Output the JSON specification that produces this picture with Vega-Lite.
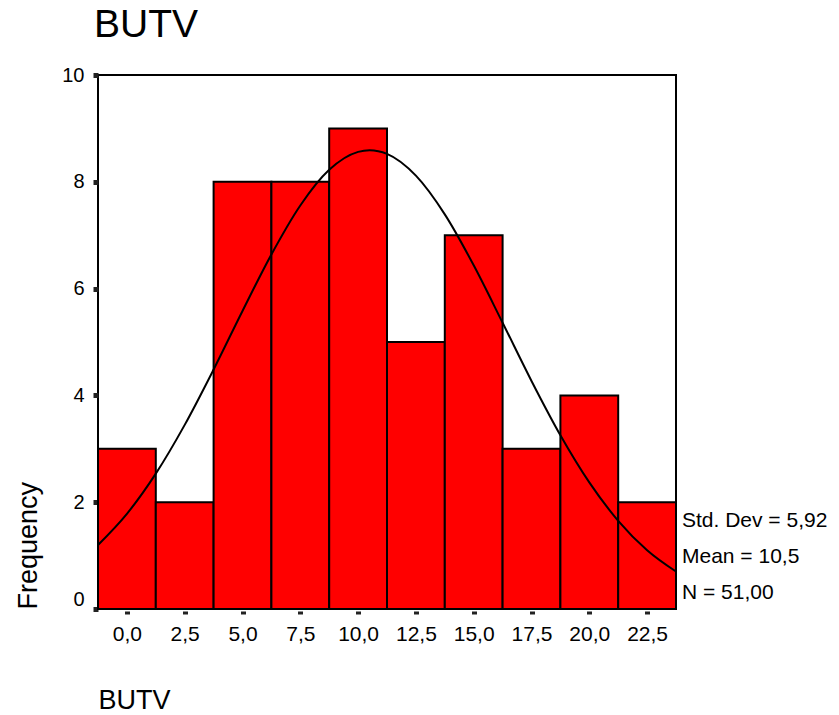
{
  "$schema": "https://vega.github.io/schema/vega-lite/v6.json",
  "width": 578,
  "height": 534,
  "autosize": {"type": "none"},
  "padding": {"left": 98, "top": 75, "right": 163, "bottom": 106},
  "background": "white",
  "config": {
    "font": "Liberation Sans",
    "view": {"stroke": "black", "strokeWidth": 2},
    "axis": {"grid": false, "domain": false, "labelColor": "black", "titleColor": "black", "titleFontWeight": "normal", "tickColor": "#222", "labelFlush": false, "labelOverlap": false}
  },
  "title": {"text": "BUTV", "anchor": "start", "frame": "group", "fontSize": 39, "fontWeight": "normal", "offset": 20, "dx": -4, "color": "black"},
  "layer": [
    {
      "data": {"values": [
        {"binStart": -1.25, "binEnd": 1.25, "count": 3},
        {"binStart": 1.25, "binEnd": 3.75, "count": 2},
        {"binStart": 3.75, "binEnd": 6.25, "count": 8},
        {"binStart": 6.25, "binEnd": 8.75, "count": 8},
        {"binStart": 8.75, "binEnd": 11.25, "count": 9},
        {"binStart": 11.25, "binEnd": 13.75, "count": 5},
        {"binStart": 13.75, "binEnd": 16.25, "count": 7},
        {"binStart": 16.25, "binEnd": 18.75, "count": 3},
        {"binStart": 18.75, "binEnd": 21.25, "count": 4},
        {"binStart": 21.25, "binEnd": 23.75, "count": 2}
      ]},
      "mark": {"type": "rect", "fill": "#ff0000", "stroke": "black", "strokeWidth": 2},
      "encoding": {
        "x": {
          "field": "binStart", "type": "quantitative",
          "scale": {"domain": [-1.25, 23.75], "nice": false, "zero": false},
          "axis": {
            "title": "BUTV", "titleFontSize": 27, "titleAnchor": "start", "titleAlign": "left", "titlePadding": 43,
            "values": [0, 2.5, 5, 7.5, 10, 12.5, 15, 17.5, 20, 22.5],
            "labelExpr": "replace(format(datum.value, '.1f'), '.', ',')",
            "labelFontSize": 21, "labelPadding": 9, "tickSize": 3, "tickWidth": 5, "offset": 2
          }
        },
        "x2": {"field": "binEnd"},
        "y": {
          "field": "count", "type": "quantitative",
          "scale": {"domain": [0, 10], "nice": false},
          "axis": {
            "title": "Frequency", "titleFontSize": 27, "titleAnchor": "start", "titleAlign": "left", "titlePadding": 19,
            "values": [0, 2, 4, 6, 8, 10],
            "labelFontSize": 20, "labelPadding": 9, "tickSize": 5, "tickWidth": 5,
            "labelBaseline": {"condition": {"test": "datum.value == 0", "value": "bottom"}, "value": "middle"}
          }
        },
        "y2": {"datum": 0}
      }
    },
    {
      "data": {"values": [
        {"x": -1.25, "y": 1.199}, {"x": 0, "y": 1.782}, {"x": 1.25, "y": 2.535}, {"x": 2.5, "y": 3.448},
        {"x": 3.75, "y": 4.485}, {"x": 5, "y": 5.581}, {"x": 6.25, "y": 6.64}, {"x": 7.5, "y": 7.557},
        {"x": 8.75, "y": 8.225}, {"x": 10, "y": 8.561}, {"x": 10.5, "y": 8.592}, {"x": 11.25, "y": 8.523},
        {"x": 12.5, "y": 8.115}, {"x": 13.75, "y": 7.39}, {"x": 15, "y": 6.436}, {"x": 16.25, "y": 5.361},
        {"x": 17.5, "y": 4.271}, {"x": 18.75, "y": 3.254}, {"x": 20, "y": 2.371}, {"x": 21.25, "y": 1.652},
        {"x": 22.5, "y": 1.101}, {"x": 23.75, "y": 0.702}
      ]},
      "mark": {"type": "line", "color": "black", "strokeWidth": 2, "interpolate": "monotone"},
      "encoding": {
        "x": {"field": "x", "type": "quantitative"},
        "y": {"field": "y", "type": "quantitative"}
      }
    },
    {
      "data": {"values": [{"stats": "Std. Dev = 5,92\nMean = 10,5\nN = 51,00"}]},
      "mark": {"type": "text", "align": "left", "baseline": "alphabetic", "fontSize": 21, "lineBreak": "\n", "lineHeight": 36, "dx": 6, "clip": false, "color": "black"},
      "encoding": {
        "x": {"datum": 23.75},
        "y": {"datum": 1.536},
        "text": {"field": "stats"}
      }
    }
  ]
}
